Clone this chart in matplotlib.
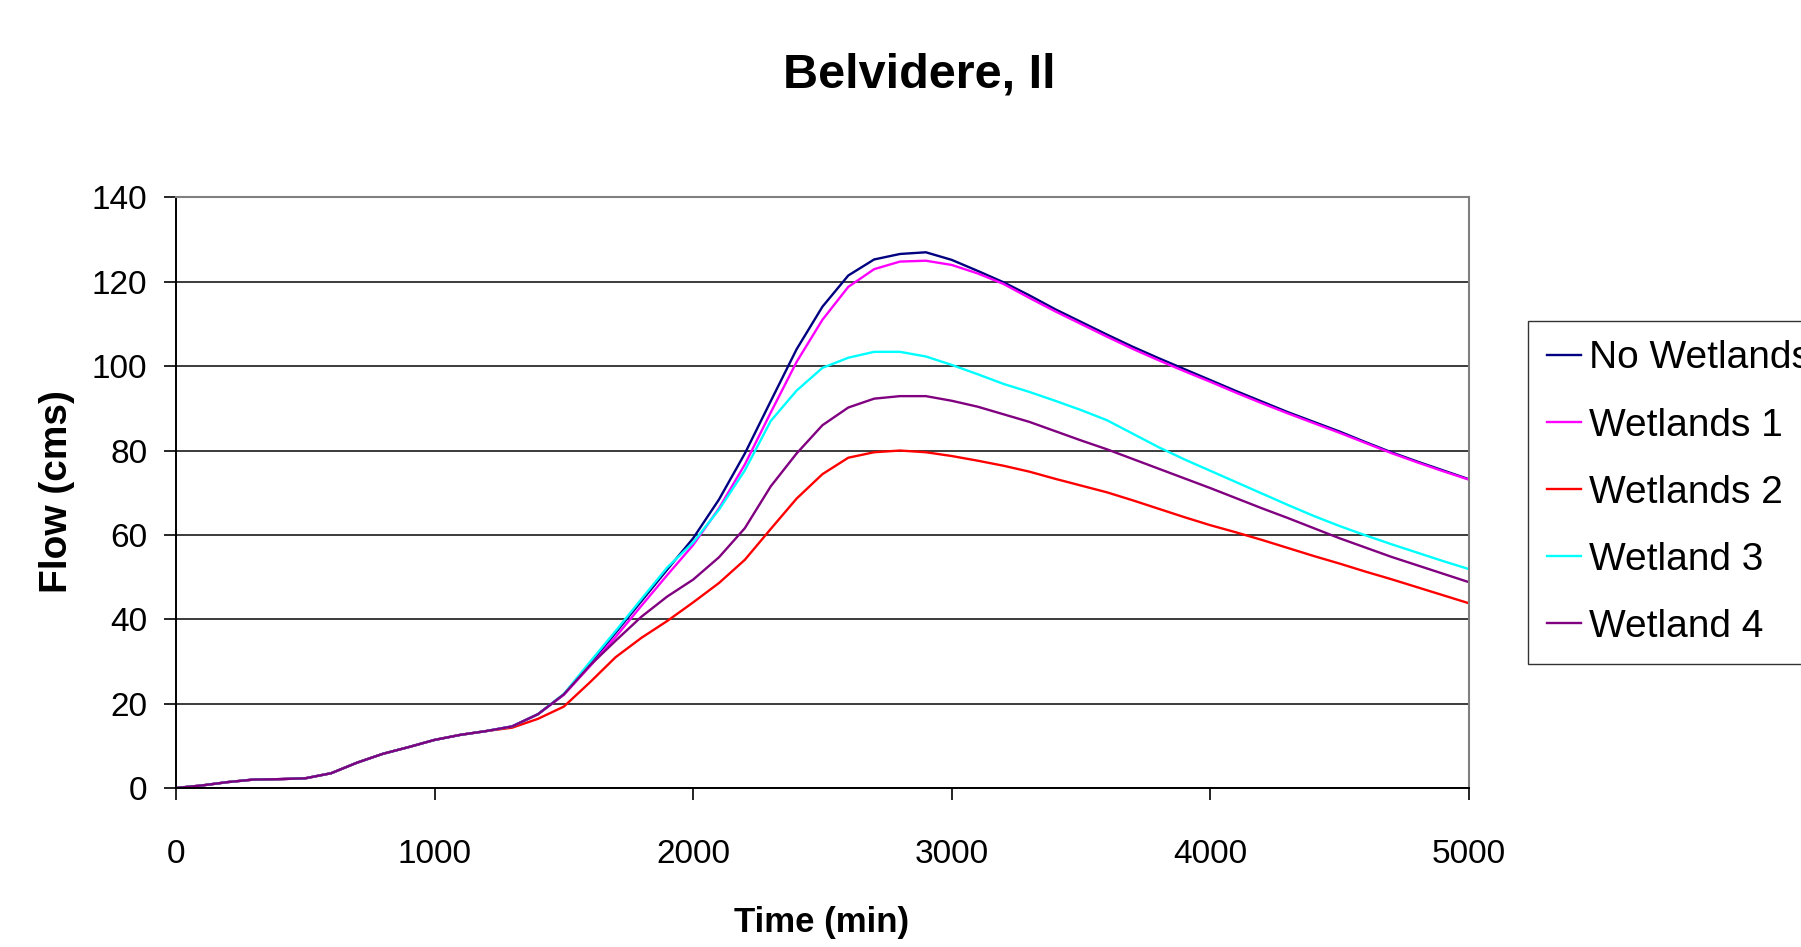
import numpy as np
import matplotlib
matplotlib.use("Agg")
import matplotlib.pyplot as plt

plt.rcParams['font.family'] = ['Liberation Sans', 'DejaVu Sans']

# time axis (min) and flows (cms)
time_min = np.arange(0, 5001, 100)

no_wetlands = [0, 0.6, 1.4, 2.0, 2.1, 2.3, 3.5, 6.0, 8.1, 9.7, 11.4, 12.6, 13.5,
               14.6, 17.5, 22.2, 29.3, 36.8, 44.3, 51.8, 59.2, 68.4, 79.3,
               91.7, 104.0, 114.1, 121.5, 125.3, 126.6, 127.0, 125.2, 122.6, 119.9,
               116.8, 113.5, 110.5, 107.5, 104.6, 101.9, 99.3, 96.7, 94.1, 91.6,
               89.1, 86.8, 84.5, 82.0, 79.6, 77.4, 75.3, 73.2]
wetlands_1 = [0, 0.6, 1.4, 2.0, 2.1, 2.3, 3.5, 6.0, 8.1, 9.7, 11.4, 12.6, 13.5,
              14.6, 17.5, 22.1, 28.8, 35.8, 43.2, 50.5, 57.6, 66.3, 76.7,
              89.0, 101.0, 111.0, 118.8, 123.0, 124.8, 125.0, 124.0, 122.0, 119.5,
              116.2, 113.0, 110.0, 107.0, 104.1, 101.4, 98.8, 96.3, 93.7, 91.2,
              88.8, 86.5, 84.2, 81.8, 79.4, 77.2, 75.1, 73.1]
wetlands_2 = [0, 0.6, 1.4, 2.0, 2.1, 2.3, 3.5, 6.0, 8.1, 9.7, 11.4, 12.6, 13.5,
              14.3, 16.4, 19.3, 25.0, 31.0, 35.6, 39.6, 44.0, 48.6, 54.1,
              61.4, 68.6, 74.4, 78.3, 79.6, 80.0, 79.6, 78.7, 77.6, 76.4,
              75.0, 73.3, 71.7, 70.1, 68.2, 66.2, 64.2, 62.3, 60.6, 58.8,
              56.9, 55.0, 53.2, 51.3, 49.5, 47.6, 45.7, 43.8]
wetland_3 = [0, 0.6, 1.4, 2.0, 2.1, 2.3, 3.5, 6.0, 8.1, 9.7, 11.4, 12.6, 13.5,
             14.6, 17.5, 22.3, 29.8, 37.2, 44.8, 52.3, 58.2, 66.0, 75.3,
             87.0, 94.2, 99.6, 102.0, 103.4, 103.4, 102.3, 100.3, 98.1, 95.8,
             93.9, 91.8, 89.6, 87.2, 84.0, 80.8, 77.9, 75.2, 72.5, 69.8,
             67.1, 64.5, 62.1, 59.9, 57.8, 55.8, 53.8, 51.9]
wetland_4 = [0, 0.6, 1.4, 2.0, 2.1, 2.3, 3.5, 6.0, 8.1, 9.7, 11.4, 12.6, 13.5,
             14.6, 17.5, 22.2, 29.0, 34.9, 40.6, 45.4, 49.4, 54.7, 61.6,
             71.5, 79.3, 86.0, 90.2, 92.3, 92.9, 92.9, 91.8, 90.4, 88.6,
             86.8, 84.6, 82.4, 80.3, 78.0, 75.7, 73.4, 71.1, 68.7, 66.3,
             64.0, 61.6, 59.2, 57.0, 54.8, 52.8, 50.8, 48.8]

series = [no_wetlands, wetlands_1, wetlands_2, wetland_3, wetland_4]
names = ['No Wetlands', 'Wetlands 1', 'Wetlands 2', 'Wetland 3', 'Wetland 4']
colors = ['#000080', '#FF00FF', '#FF0000', '#00FFFF', '#800080']

fig = plt.figure(figsize=(18.01, 9.47), dpi=100, facecolor='white')
ax = fig.add_axes([0.0977, 0.1679, 0.7179, 0.6236])

for y, name, c in zip(series, names, colors):
    ax.plot(time_min, y, color=c, lw=1.7, label=name)

ax.set_xlim(0, 5000)
ax.set_ylim(0, 140)
ax.set_xticks(np.arange(0, 5001, 1000))
ax.set_yticks(np.arange(0, 141, 20))
ax.grid(axis='y', color='#1a1a1a', lw=1.2)
ax.set_axisbelow(True)

for side in ['left', 'bottom']:
    ax.spines[side].set_color('black')
    ax.spines[side].set_linewidth(1.4)
for side in ['top', 'right']:
    ax.spines[side].set_color('#808080')
    ax.spines[side].set_linewidth(1.5)

ax.tick_params(axis='both', direction='out', length=8.5, width=1.2, labelsize=24)
ax.tick_params(axis='x', pad=28)
ax.tick_params(axis='y', pad=12)

fig.text(919 / 1801, 1 - 75 / 947, 'Belvidere, Il', ha='center', va='center',
         fontsize=35, fontweight='bold')
fig.text(57 / 1801, 1 - 492 / 947, 'Flow (cms)', rotation=90, ha='center',
         va='center', fontsize=28, fontweight='bold')
fig.text(822 / 1801, 1 - 922 / 947, 'Time (min)', ha='center', va='center',
         fontsize=25, fontweight='bold')

# legend runs off the right edge, as in the original
leg = fig.legend(loc='upper left', bbox_to_anchor=(1528 / 1801, 1 - 321 / 947),
                 fontsize=28, frameon=True, fancybox=False, edgecolor='black',
                 handlelength=0.85, handletextpad=0.22, borderpad=0.5,
                 labelspacing=0.8, borderaxespad=0)
leg.get_frame().set_linewidth(1.0)

fig.savefig('out.png', dpi=100, facecolor='white')
